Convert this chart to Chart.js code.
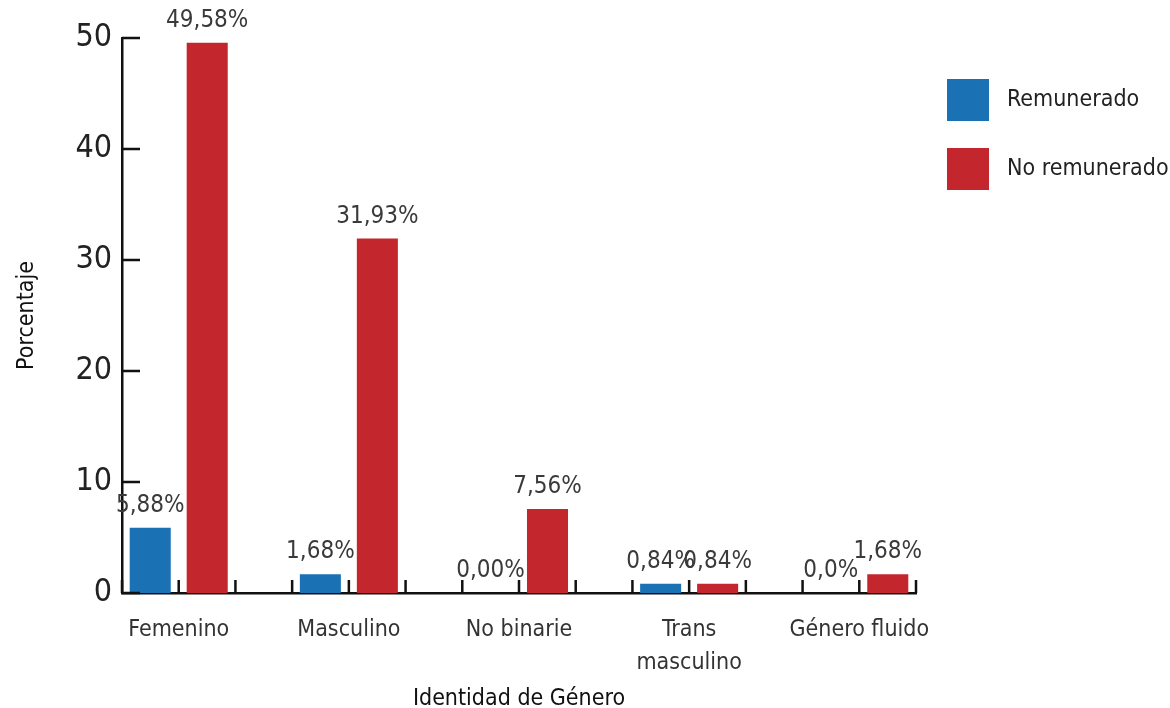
<!DOCTYPE html>
<html>
<head>
<meta charset="utf-8">
<script src="https://cdn.jsdelivr.net/npm/chart.js@4.4.0/dist/chart.umd.min.js"></script>
<style>
  html, body { margin: 0; padding: 0; background: #fff; }
  canvas { display: block; }
</style>
</head>
<body>
<canvas id="generoChart" width="1170" height="708"></canvas>
<script>
// datos
const categorias = ['Femenino', 'Masculino', 'No binarie', ['Trans', 'masculino'], 'Género fluido'];
const remunerado = [5.88, 1.68, 0, 0.84, 0];
const noRemunerado = [49.58, 31.93, 7.56, 0.84, 1.68];
const etiquetasRemunerado = ['5,88%', '1,68%', '0,00%', '0,84%', '0,0%'];
const etiquetasNoRemunerado = ['49,58%', '31,93%', '7,56%', '0,84%', '1,68%'];
const yTicks = [0, 10, 20, 30, 40, 50];

const FUENTE = "'Liberation Sans Narrow', 'DejaVu Sans Condensed', sans-serif";
const AZUL = '#1a72b5';
const ROJO = '#c4262d';

// etiquetas de valor encima de cada barra
const valueLabels = {
  id: 'valueLabels',
  afterDatasetsDraw(chart) {
    const ctx = chart.ctx;
    const textos = [etiquetasRemunerado, etiquetasNoRemunerado];
    ctx.save();
    ctx.font = '24px ' + FUENTE;
    ctx.fillStyle = '#3a3a3a';
    ctx.textAlign = 'center';
    ctx.textBaseline = 'alphabetic';
    chart.data.datasets.forEach((ds, d) => {
      chart.getDatasetMeta(d).data.forEach((bar, i) => {
        ctx.fillText(textos[d][i], bar.x, bar.y - 16);
      });
    });
    ctx.restore();
  }
};

// marcas de los ejes hacia adentro + leyenda a la derecha
const axisMarks = {
  id: 'axisMarks',
  afterDraw(chart) {
    const ctx = chart.ctx;
    const x = chart.scales.x, y = chart.scales.y;
    ctx.save();
    ctx.strokeStyle = '#111';
    ctx.lineWidth = 2.5;
    ctx.beginPath();
    y.ticks.forEach(t => {
      const py = y.getPixelForValue(t.value);
      ctx.moveTo(x.left, py);
      ctx.lineTo(x.left + 18, py);
    });
    x.ticks.forEach(t => {
      const px = x.getPixelForValue(t.value);
      ctx.moveTo(px, y.bottom);
      ctx.lineTo(px, y.bottom - 13);
    });
    ctx.stroke();

    // leyenda
    ctx.font = '23px ' + FUENTE;
    ctx.textBaseline = 'middle';
    ctx.textAlign = 'left';
    chart.data.datasets.forEach((ds, d) => {
      const top = 79 + d * 69;
      ctx.fillStyle = ds.backgroundColor;
      ctx.fillRect(947, top, 42, 42);
      ctx.fillStyle = '#222';
      ctx.fillText(ds.label, 1007, top + 21);
    });
    ctx.restore();
  }
};

new Chart(document.getElementById('generoChart').getContext('2d'), {
  type: 'bar',
  data: {
    datasets: [
      {
        label: 'Remunerado',
        data: remunerado.map((v, i) => ({ x: i, y: v })),
        backgroundColor: AZUL,
        categoryPercentage: 2.01,
        barPercentage: 0.72
      },
      {
        label: 'No remunerado',
        data: noRemunerado.map((v, i) => ({ x: i, y: v })),
        backgroundColor: ROJO,
        categoryPercentage: 2.01,
        barPercentage: 0.72
      }
    ]
  },
  options: {
    responsive: false,
    animation: false,
    layout: { padding: { left: 0, right: 254, top: 38, bottom: 0 } },
    plugins: {
      legend: { display: false },
      tooltip: { enabled: false }
    },
    scales: {
      x: {
        type: 'linear',
        offset: false,
        min: -1 / 3,
        max: 13 / 3,
        afterBuildTicks: (scale) => {
          const t = [];
          for (let k = -1; k <= 13; k++) t.push({ value: k / 3 });
          scale.ticks = t;
        },
        afterFit: (scale) => { scale.height = 115; },
        grid: { display: false, drawTicks: false },
        border: { display: true, color: '#111', width: 2.5 },
        ticks: {
          autoSkip: false,
          maxRotation: 0,
          padding: 20,
          color: '#333',
          font: { family: FUENTE, size: 23, lineHeight: 1.45 },
          callback: (value) => {
            const r = Math.round(value);
            return Math.abs(value - r) < 1e-6 ? categorias[r] : '';
          }
        },
        title: {
          display: true,
          text: 'Identidad de Género',
          color: '#111',
          font: { family: FUENTE, size: 23 },
          padding: { top: 0, bottom: -5 }
        }
      },
      y: {
        min: 0,
        max: 50,
        afterBuildTicks: (scale) => { scale.ticks = yTicks.map(v => ({ value: v })); },
        afterFit: (scale) => { scale.width = 122; },
        grid: { display: false, drawTicks: false },
        border: { display: true, color: '#111', width: 2.5 },
        ticks: {
          padding: 10,
          color: '#222',
          font: { family: FUENTE, size: 32 }
        },
        title: {
          display: true,
          text: 'Porcentaje',
          color: '#111',
          font: { family: FUENTE, size: 23 },
          padding: { top: 13, bottom: 0 }
        }
      }
    }
  },
  plugins: [valueLabels, axisMarks]
});
</script>
</body>
</html>
